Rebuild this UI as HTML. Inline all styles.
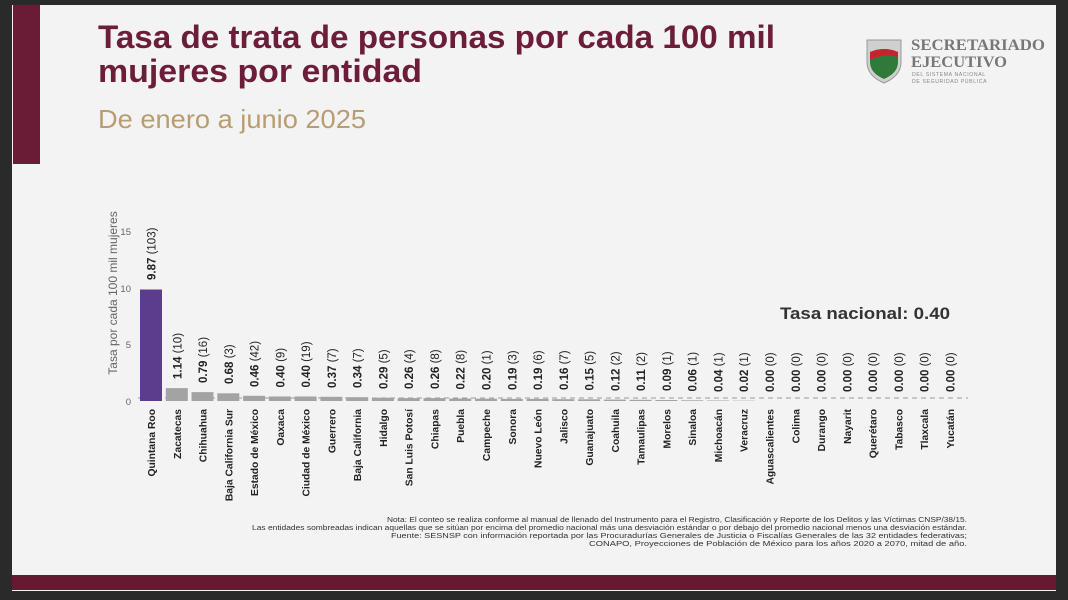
<!DOCTYPE html>
<html><head><meta charset="utf-8"><style>
body{margin:0;width:1068px;height:600px;overflow:hidden;background:#2a2a2a;font-family:"Liberation Sans","DejaVu Sans",sans-serif}
svg{display:block}
.v{font-size:11.5px;font-weight:bold;fill:#222}
.v tspan{font-weight:normal}
.c{font-size:10.3px;font-weight:bold;fill:#222;text-anchor:end}
.n{font-size:7px;fill:#333;text-anchor:end}
</style></head><body>
<svg width="1068" height="600" viewBox="0 0 1068 600" xmlns="http://www.w3.org/2000/svg">
<rect x="0" y="0" width="1068" height="600" fill="#2a2a2a"/>
<rect x="12" y="5" width="1044" height="586" fill="#f3f3f3"/>
<rect x="13" y="5" width="27" height="159" fill="#6a1c36"/>
<rect x="12" y="575" width="1044" height="15" fill="#641b31"/>
<text x="98" y="48" font-size="32" font-weight="bold" fill="#6b1d3a" textLength="677" lengthAdjust="spacingAndGlyphs">Tasa de trata de personas por cada 100 mil</text>
<text x="98" y="82" font-size="32" font-weight="bold" fill="#6b1d3a" textLength="324" lengthAdjust="spacingAndGlyphs">mujeres por entidad</text>
<text x="98" y="128" font-size="26" fill="#b89d72" textLength="268" lengthAdjust="spacingAndGlyphs">De enero a junio 2025</text>
<!-- logo -->
<path d="M867 40 h34 v22 q0 14 -17 21 q-17 -7 -17 -21z" fill="#cfcfcf" stroke="#999" stroke-width="1"/>
<path d="M870 52 q14 -6 28 0 v10 q0 11 -14 17 q-14 -6 -14 -17z" fill="#2f7a3a"/>
<path d="M870 52 q14 -6 28 0 v5 q-14 -4 -28 3z" fill="#c8232c"/>
<text x="911" y="50" font-size="15.5" font-weight="bold" font-family="Liberation Serif,serif" fill="#777" textLength="134" lengthAdjust="spacingAndGlyphs">SECRETARIADO</text>
<text x="911" y="67" font-size="15.5" font-weight="bold" font-family="Liberation Serif,serif" fill="#777" textLength="96" lengthAdjust="spacingAndGlyphs">EJECUTIVO</text>
<text x="912" y="76" font-size="5.2" fill="#888" letter-spacing="0.6">DEL SISTEMA NACIONAL</text>
<text x="912" y="83" font-size="5.2" fill="#888" letter-spacing="0.6">DE SEGURIDAD PÚBLICA</text>
<!-- axis -->
<text transform="translate(117,293) rotate(-90)" font-size="12" fill="#666" text-anchor="middle">Tasa por cada 100 mil mujeres</text>
<g font-size="9.5" fill="#666" text-anchor="end">
<text x="131" y="405">0</text><text x="131" y="348">5</text><text x="131" y="292">10</text><text x="131" y="235">15</text>
</g>
<line x1="138" y1="398" x2="968" y2="398" stroke="#999" stroke-width="1" stroke-dasharray="5,4"/>
<text x="950" y="319" font-size="17" font-weight="bold" fill="#333" text-anchor="end" textLength="170" lengthAdjust="spacingAndGlyphs">Tasa nacional: 0.40</text>
<!-- bars -->
<g fill="#a3a3a3">
<rect x="140" y="289.5" width="22" height="111.5" fill="#5c3c8c"/>
<rect x="165.8" y="388.1" width="22" height="12.9"/>
<rect x="191.5" y="392.1" width="22" height="8.9"/>
<rect x="217.3" y="393.3" width="22" height="7.7"/>
<rect x="243.1" y="395.8" width="22" height="5.2"/>
<rect x="268.9" y="396.5" width="22" height="4.5"/>
<rect x="294.6" y="396.5" width="22" height="4.5"/>
<rect x="320.4" y="396.8" width="22" height="4.2"/>
<rect x="346.2" y="397.2" width="22" height="3.8"/>
<rect x="371.9" y="397.7" width="22" height="3.3"/>
<rect x="397.7" y="398.1" width="22" height="2.9"/>
<rect x="423.5" y="398.1" width="22" height="2.9"/>
<rect x="449.2" y="398.5" width="22" height="2.5"/>
<rect x="475" y="398.7" width="22" height="2.3"/>
<rect x="500.8" y="398.9" width="22" height="2.1"/>
<rect x="526.6" y="398.9" width="22" height="2.1"/>
<rect x="552.3" y="399.2" width="22" height="1.8"/>
<rect x="578.1" y="399.3" width="22" height="1.7"/>
<rect x="603.9" y="399.6" width="22" height="1.4"/>
<rect x="629.6" y="399.8" width="22" height="1.2"/>
<rect x="655.4" y="400" width="22" height="1"/>
<rect x="681.2" y="400.3" width="22" height="0.7"/>
<rect x="707" y="400.5" width="22" height="0.5"/>
<rect x="732.7" y="400.7" width="22" height="0.3"/>
</g>
<!-- values -->
<g class="v">
<text transform="translate(155.5,280) rotate(-90)">9.87 <tspan>(103)</tspan></text>
<text transform="translate(181.3,379) rotate(-90)">1.14 <tspan>(10)</tspan></text>
<text transform="translate(207,383) rotate(-90)">0.79 <tspan>(16)</tspan></text>
<text transform="translate(232.8,384) rotate(-90)">0.68 <tspan>(3)</tspan></text>
<text transform="translate(258.6,387) rotate(-90)">0.46 <tspan>(42)</tspan></text>
<text transform="translate(284.4,387.5) rotate(-90)">0.40 <tspan>(9)</tspan></text>
<text transform="translate(310.1,387.5) rotate(-90)">0.40 <tspan>(19)</tspan></text>
<text transform="translate(335.9,388) rotate(-90)">0.37 <tspan>(7)</tspan></text>
<text transform="translate(361.7,388) rotate(-90)">0.34 <tspan>(7)</tspan></text>
<text transform="translate(387.4,389) rotate(-90)">0.29 <tspan>(5)</tspan></text>
<text transform="translate(413.2,389) rotate(-90)">0.26 <tspan>(4)</tspan></text>
<text transform="translate(439,389) rotate(-90)">0.26 <tspan>(8)</tspan></text>
<text transform="translate(464.7,389.5) rotate(-90)">0.22 <tspan>(8)</tspan></text>
<text transform="translate(490.5,390) rotate(-90)">0.20 <tspan>(1)</tspan></text>
<text transform="translate(516.3,390) rotate(-90)">0.19 <tspan>(3)</tspan></text>
<text transform="translate(542.1,390) rotate(-90)">0.19 <tspan>(6)</tspan></text>
<text transform="translate(567.8,390) rotate(-90)">0.16 <tspan>(7)</tspan></text>
<text transform="translate(593.6,390.5) rotate(-90)">0.15 <tspan>(5)</tspan></text>
<text transform="translate(619.4,391) rotate(-90)">0.12 <tspan>(2)</tspan></text>
<text transform="translate(645.1,391) rotate(-90)">0.11 <tspan>(2)</tspan></text>
<text transform="translate(670.9,391) rotate(-90)">0.09 <tspan>(1)</tspan></text>
<text transform="translate(696.7,391.5) rotate(-90)">0.06 <tspan>(1)</tspan></text>
<text transform="translate(722.5,392) rotate(-90)">0.04 <tspan>(1)</tspan></text>
<text transform="translate(748.2,392) rotate(-90)">0.02 <tspan>(1)</tspan></text>
<text transform="translate(774,392) rotate(-90)">0.00 <tspan>(0)</tspan></text>
<text transform="translate(799.8,392) rotate(-90)">0.00 <tspan>(0)</tspan></text>
<text transform="translate(825.5,392) rotate(-90)">0.00 <tspan>(0)</tspan></text>
<text transform="translate(851.3,392) rotate(-90)">0.00 <tspan>(0)</tspan></text>
<text transform="translate(877.1,392) rotate(-90)">0.00 <tspan>(0)</tspan></text>
<text transform="translate(902.8,392) rotate(-90)">0.00 <tspan>(0)</tspan></text>
<text transform="translate(928.6,392) rotate(-90)">0.00 <tspan>(0)</tspan></text>
<text transform="translate(954.4,392) rotate(-90)">0.00 <tspan>(0)</tspan></text>
</g>
<!-- categories -->
<g class="c">
<text transform="translate(155,409) rotate(-90)">Quintana Roo</text>
<text transform="translate(180.8,409) rotate(-90)">Zacatecas</text>
<text transform="translate(206.5,409) rotate(-90)">Chihuahua</text>
<text transform="translate(232.3,409) rotate(-90)">Baja California Sur</text>
<text transform="translate(258.1,409) rotate(-90)">Estado de México</text>
<text transform="translate(283.9,409) rotate(-90)">Oaxaca</text>
<text transform="translate(309.6,409) rotate(-90)">Ciudad de México</text>
<text transform="translate(335.4,409) rotate(-90)">Guerrero</text>
<text transform="translate(361.2,409) rotate(-90)">Baja California</text>
<text transform="translate(386.9,409) rotate(-90)">Hidalgo</text>
<text transform="translate(412.7,409) rotate(-90)">San Luis Potosí</text>
<text transform="translate(438.5,409) rotate(-90)">Chiapas</text>
<text transform="translate(464.2,409) rotate(-90)">Puebla</text>
<text transform="translate(490,409) rotate(-90)">Campeche</text>
<text transform="translate(515.8,409) rotate(-90)">Sonora</text>
<text transform="translate(541.6,409) rotate(-90)">Nuevo León</text>
<text transform="translate(567.3,409) rotate(-90)">Jalisco</text>
<text transform="translate(593.1,409) rotate(-90)">Guanajuato</text>
<text transform="translate(618.9,409) rotate(-90)">Coahuila</text>
<text transform="translate(644.6,409) rotate(-90)">Tamaulipas</text>
<text transform="translate(670.4,409) rotate(-90)">Morelos</text>
<text transform="translate(696.2,409) rotate(-90)">Sinaloa</text>
<text transform="translate(722,409) rotate(-90)">Michoacán</text>
<text transform="translate(747.7,409) rotate(-90)">Veracruz</text>
<text transform="translate(773.5,409) rotate(-90)">Aguascalientes</text>
<text transform="translate(799.3,409) rotate(-90)">Colima</text>
<text transform="translate(825,409) rotate(-90)">Durango</text>
<text transform="translate(850.8,409) rotate(-90)">Nayarit</text>
<text transform="translate(876.6,409) rotate(-90)">Querétaro</text>
<text transform="translate(902.3,409) rotate(-90)">Tabasco</text>
<text transform="translate(928.1,409) rotate(-90)">Tlaxcala</text>
<text transform="translate(953.9,409) rotate(-90)">Yucatán</text>
</g>
<g class="n">
<text x="967" y="522" textLength="580" lengthAdjust="spacingAndGlyphs">Nota: El conteo se realiza conforme al manual de llenado del Instrumento para el Registro, Clasificación y Reporte de los Delitos y las Víctimas CNSP/38/15.</text>
<text x="967" y="530" textLength="715" lengthAdjust="spacingAndGlyphs">Las entidades sombreadas indican aquellas que se sitúan por encima del promedio nacional más una desviación estándar o por debajo del promedio nacional menos una desviación estándar.</text>
<text x="967" y="538" textLength="576" lengthAdjust="spacingAndGlyphs">Fuente: SESNSP con información reportada por las Procuradurías Generales de Justicia o Fiscalías Generales de las 32 entidades federativas;</text>
<text x="967" y="546" textLength="378" lengthAdjust="spacingAndGlyphs">CONAPO, Proyecciones de Población de México para los años 2020 a 2070, mitad de año.</text>
</g>
</svg>
</body></html>
